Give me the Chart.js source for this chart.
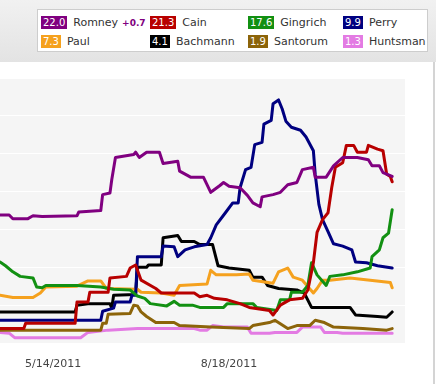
<!DOCTYPE html>
<html>
<head>
<meta charset="utf-8">
<script src="https://cdn.jsdelivr.net/npm/chart.js@4"></script>
<style>
  body { margin: 0; width: 436px; height: 384px; overflow: hidden; background: #fff; position: relative;
         font-family: "DejaVu Sans", Verdana, sans-serif; }
  #top { position: absolute; left: 0; top: 0; width: 436px; height: 62px;
         background: linear-gradient(#f1f1f1, #e3e3e3); }
  #legend { position: absolute; left: 37px; top: 9px; width: 389px; height: 41px;
            background: #fff; border: 1px solid #cdcdcd; }
  .item { position: absolute; font-size: 11px; line-height: 13px; color: #333; white-space: nowrap; }
  .num { display: inline-block; color: #fff; font-size: 10px; padding: 0 2px; margin-right: 6px; }
  .diff { color: #800080; font-weight: bold; font-size: 9px; margin-left: 4px; }
  #wrap { position: absolute; left: 0; top: 62px; width: 436px; height: 322px; }
  #edge { position: absolute; left: 433px; top: 62px; width: 2px; height: 322px; background: #d4d4d4; }
</style>
</head>
<body>
<div id="top"><div id="legend"></div></div>
<div id="wrap"><canvas id="pollChart" width="436" height="322"></canvas></div>
<div id="edge"></div>
<script>
var names = ["Romney", "Cain", "Gingrich", "Perry", "Paul", "Bachmann", "Santorum", "Huntsman"];
var colors = ["#800080", "#b80000", "#129012", "#000080", "#f5a11e", "#000000", "#8c640a", "#e37be3"];
var tickDates = ["5/14/2011", "8/18/2011"];
var startDate = "4/15/2011";

var romney = [["4/15",16.9],["4/20",16.9],["4/22",16.4],["4/30",16.4],["5/3",16.8],["5/8",16.7],["5/27",16.8],["5/28",17.3],["6/9",17.5],["6/10",19.6],["6/14",19.8],["6/15",21.6],["6/17",24.5],["6/27",24.9],["6/28",25.2],["6/30",24.5],["7/4",25.2],["7/11",25.2],["7/13",23.7],["7/21",24.0],["7/22",22.7],["7/28",21.9],["8/4",21.9],["8/8",19.9],["8/13",20.8],["8/15",21.2],["8/18",20.7],["8/24",20.5],["8/28",19.5],["8/31",18.5],["9/4",18.0],["9/5",19.3],["9/11",19.6],["9/15",19.9],["9/19",20.9],["9/24",21.2],["9/27",22.9],["10/3",23.2],["10/4",21.9],["10/10",21.9],["10/14",23.4],["10/19",24.5],["10/27",24.5],["11/2",24.2],["11/4",23.4],["11/8",23.4],["11/10",22.5],["11/15",22.0]];
var cain = [["4/15",1.9],["4/28",1.9],["4/29",2.6],["5/26",2.6],["5/27",5.4],["6/2",5.4],["6/3",6.7],["6/13",6.7],["6/14",8.6],["6/23",8.8],["6/25",9.9],["6/28",10.3],["7/1",8.3],["7/9",7.2],["7/12",6.6],["7/30",6.6],["8/2",6.1],["8/6",6.3],["8/10",5.9],["8/17",5.7],["8/24",5.2],["8/29",4.7],["9/9",4.3],["9/11",3.7],["9/15",5.0],["9/20",5.7],["9/27",5.9],["9/30",7.0],["10/3",10.6],["10/5",14.6],["10/8",16.3],["10/11",17.2],["10/13",20.5],["10/15",23.2],["10/19",23.8],["10/21",26.1],["10/25",26.1],["10/27",25.2],["11/1",25.2],["11/2",26.1],["11/7",25.6],["11/10",25.4],["11/12",22.3],["11/14",22.0],["11/15",21.3]];
var gingrich = [["4/15",10.7],["4/18",10.2],["4/22",9.4],["4/26",8.8],["5/3",8.6],["5/5",7.4],["5/8",7.3],["5/10",7.6],["5/27",7.6],["6/9",7.4],["6/16",7.1],["6/25",7.0],["6/29",6.2],["7/3",5.9],["7/6",5.2],["7/15",4.9],["7/19",5.5],["7/22",5.0],["7/29",5.0],["8/2",4.7],["8/15",4.7],["8/17",5.2],["8/31",5.2],["9/2",4.7],["9/13",4.3],["9/15",5.7],["9/20",5.7],["9/21",6.7],["9/27",6.7],["9/30",7.6],["10/2",10.6],["10/5",9.0],["10/10",7.6],["10/12",8.8],["10/19",9.0],["10/27",9.4],["11/3",9.9],["11/4",11.4],["11/8",12.3],["11/10",13.9],["11/13",14.5],["11/15",17.6]];
var perry = [["4/15",3.0],["6/9",3.0],["6/10",4.2],["6/16",4.6],["6/17",5.4],["6/25",5.4],["6/26",6.3],["6/28",6.3],["6/29",11.4],["7/12",11.4],["7/13",12.8],["7/19",12.7],["7/21",11.4],["7/25",12.3],["7/30",12.7],["8/6",13.0],["8/8",13.9],["8/11",15.6],["8/16",17.2],["8/20",18.5],["8/23",18.5],["8/24",20.5],["8/27",22.9],["8/30",23.2],["9/1",26.2],["9/5",26.5],["9/6",28.9],["9/10",29.4],["9/11",31.6],["9/14",32.1],["9/16",30.9],["9/18",29.3],["9/21",28.5],["9/26",28.1],["9/29",27.2],["10/3",25.4],["10/4",22.3],["10/6",18.3],["10/8",16.3],["10/11",14.7],["10/14",13.1],["10/19",12.8],["10/24",12.3],["10/26",10.7],["11/1",10.6],["11/7",10.2],["11/15",9.9]];
var paul = [["4/15",6.3],["4/22",6.0],["5/3",6.0],["5/7",6.6],["5/10",7.4],["5/27",7.5],["6/2",8.2],["6/9",8.2],["6/12",7.2],["6/29",7.1],["7/1",6.7],["7/12",6.6],["7/19",6.3],["7/22",7.6],["8/6",7.8],["8/8",9.6],["8/11",9.0],["8/22",9.0],["8/29",9.1],["8/31",8.3],["9/11",7.9],["9/14",9.4],["9/19",9.9],["9/22",8.7],["9/27",8.3],["10/3",6.6],["10/5",7.2],["10/8",8.3],["10/12",8.3],["10/23",8.6],["11/14",8.0],["11/15",7.3]];
var bachmann = [["4/15",4.1],["5/26",4.1],["5/27",5.0],["6/3",5.2],["6/14",5.2],["6/15",4.6],["6/16",6.3],["6/28",6.4],["6/29",10.0],["7/4",10.0],["7/5",10.3],["7/12",10.3],["7/13",13.9],["7/21",14.2],["7/23",13.4],["7/30",13.4],["8/2",13.0],["8/9",13.0],["8/12",10.2],["8/18",9.9],["8/29",9.6],["8/31",8.7],["9/5",8.7],["9/8",7.6],["9/14",7.2],["9/24",7.0],["9/28",6.6],["10/2",4.7],["10/23",4.7],["10/26",3.7],["11/7",3.5],["11/12",3.4],["11/15",4.1]];
var santorum = [["4/15",1.7],["6/9",1.7],["6/10",2.6],["6/12",2.6],["6/13",3.8],["6/25",3.9],["6/27",5.0],["6/29",4.9],["7/1",4.1],["7/4",3.5],["7/9",2.7],["7/19",2.7],["7/22",2.3],["8/8",2.1],["8/29",1.9],["8/31",2.3],["9/9",2.7],["9/12",3.0],["9/19",1.9],["9/24",2.3],["10/1",2.3],["10/4",3.0],["10/9",2.7],["10/14",2.1],["10/30",1.9],["11/12",1.7],["11/15",1.9]];
var huntsman = [["4/15",1.4],["4/20",1.3],["4/23",0.7],["5/29",0.7],["6/2",1.4],["6/13",1.7],["6/29",1.9],["7/30",1.9],["8/2",1.7],["8/6",1.7],["8/9",2.3],["8/15",2.1],["8/28",2.1],["8/30",1.3],["9/9",1.3],["9/12",1.4],["9/24",1.4],["9/27",2.1],["10/7",2.1],["10/9",1.4],["10/16",1.4],["10/19",1.3],["11/15",1.3]];

var series = [romney, cain, gingrich, perry, paul, bachmann, santorum, huntsman];

// "m/d" or "m/d/yyyy" -> day number
function day(s) {
  var p = s.split("/");
  return Date.UTC(p[2] ? +p[2] : 2011, p[0] - 1, +p[1]) / 864e5;
}

// legend with latest values
var legend = document.getElementById("legend");
var colX = [3, 112, 210, 305];
var rowY = [6, 25];
names.forEach(function (n, i) {
  var last = series[i][series[i].length - 1][1];
  var el = document.createElement("div");
  el.className = "item";
  el.style.left = colX[i % 4] + "px";
  el.style.top = rowY[Math.floor(i / 4)] + "px";
  var html = '<span class="num" style="background:' + colors[i] + '">' + last.toFixed(1) + "</span>" + n;
  if (i == 0) {
    var lead = last - series[1][series[1].length - 1][1];
    html += '<span class="diff">+' + lead.toFixed(1) + "</span>";
  }
  el.innerHTML = html;
  legend.appendChild(el);
});

var plotBg = {
  id: "plotBg",
  beforeDraw: function (c) {
    var a = c.chartArea, g = c.ctx;
    g.save();
    g.fillStyle = "#f5f5f5";
    g.fillRect(a.left, a.top, a.right - a.left, a.bottom - a.top);
    g.restore();
  },
};

var x0 = day(startDate);
var ctx = document.getElementById("pollChart").getContext("2d");
var pollChart = new Chart(ctx, {
  type: "line",
  data: {
    datasets: names.map(function (n, i) {
      return {
        label: n,
        data: series[i].map(function (p) { return { x: day(p[0]), y: p[1] }; }),
        borderColor: colors[i],
        borderWidth: 3,
        pointRadius: 0,
        tension: 0,
        borderJoinStyle: "round",
        borderCapStyle: "round",
      };
    }),
  },
  options: {
    responsive: false,
    animation: false,
    layout: { padding: { top: 16, right: 31, left: 0, bottom: 0 } },
    plugins: { legend: { display: false }, tooltip: { enabled: false } },
    scales: {
      x: {
        type: "linear",
        min: x0,
        max: x0 + 221,
        afterBuildTicks: function (axis) {
          axis.ticks = tickDates.map(function (d) { return { value: day(d) }; });
        },
        afterFit: function (axis) { axis.height = 41; },
        grid: { display: false },
        border: { display: false },
        ticks: {
          autoSkip: false,
          maxRotation: 0,
          padding: 7,
          color: "#444",
          font: { family: "DejaVu Sans", size: 11 },
          callback: function (v) {
            var i = tickDates.map(day).indexOf(v);
            return i >= 0 ? tickDates[i] : "";
          },
        },
      },
      y: {
        min: 0,
        max: 35,
        afterFit: function (axis) { axis.width = 0; },
        ticks: { display: false, stepSize: 5 },
        grid: { color: "#ffffff", lineWidth: 1, drawTicks: false },
        border: { display: false },
      },
    },
  },
  plugins: [plotBg],
});
</script>
</body>
</html>
